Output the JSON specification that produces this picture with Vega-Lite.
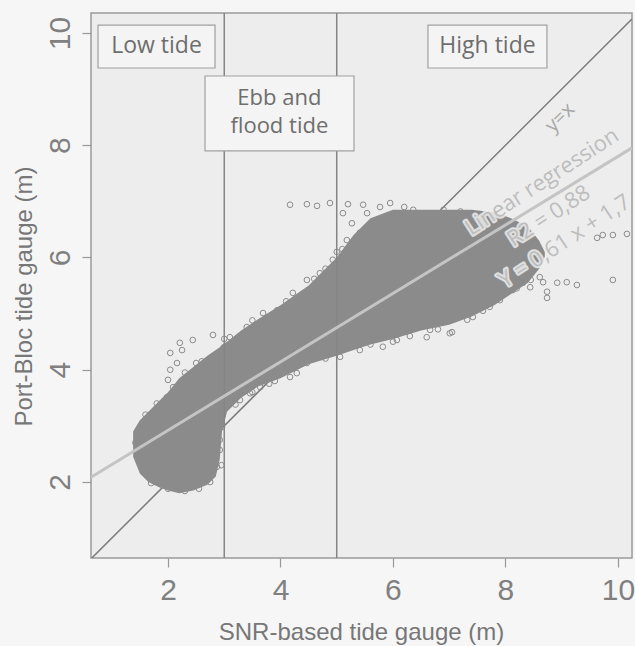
{
  "$schema": "https://vega.github.io/schema/vega-lite/v6.json",
  "width": 541,
  "height": 545,
  "autosize": {"type": "none"},
  "padding": {"left": 91, "top": 13, "right": 3, "bottom": 88},
  "background": "#f6f6f6",
  "config": {"view": {"fill": "#ededed", "stroke": "#9a9a9a", "strokeWidth": 1.5}},
  "datasets": {
    "band": [
      {"x": 1.38, "y": 2.45, "y2": 2.9},
      {"x": 1.5, "y": 2.15, "y2": 3.1},
      {"x": 1.65, "y": 2.0, "y2": 3.25},
      {"x": 1.85, "y": 1.9, "y2": 3.45},
      {"x": 2.0, "y": 1.85, "y2": 3.6},
      {"x": 2.2, "y": 1.8, "y2": 3.85},
      {"x": 2.45, "y": 1.85, "y2": 4.05},
      {"x": 2.7, "y": 1.95, "y2": 4.25},
      {"x": 2.85, "y": 2.1, "y2": 4.35},
      {"x": 2.92, "y": 2.4, "y2": 4.4},
      {"x": 2.96, "y": 2.9, "y2": 4.45},
      {"x": 3.05, "y": 3.25, "y2": 4.5},
      {"x": 3.3, "y": 3.5, "y2": 4.7},
      {"x": 3.6, "y": 3.7, "y2": 4.9},
      {"x": 4.0, "y": 3.85, "y2": 5.15},
      {"x": 4.5, "y": 4.1, "y2": 5.5},
      {"x": 5.0, "y": 4.25, "y2": 6.0},
      {"x": 5.3, "y": 4.35, "y2": 6.4},
      {"x": 5.6, "y": 4.45, "y2": 6.7},
      {"x": 6.0, "y": 4.55, "y2": 6.85},
      {"x": 6.5, "y": 4.7, "y2": 6.85},
      {"x": 7.0, "y": 4.8, "y2": 6.85},
      {"x": 7.4, "y": 4.95, "y2": 6.85},
      {"x": 7.8, "y": 5.15, "y2": 6.8},
      {"x": 8.1, "y": 5.35, "y2": 6.7},
      {"x": 8.4, "y": 5.55, "y2": 6.55},
      {"x": 8.6, "y": 5.8, "y2": 6.3},
      {"x": 8.7, "y": 6.0, "y2": 6.1}
    ],
    "pts": [
      {"x": 2.04, "y": 4.30}, {"x": 2.21, "y": 4.48}, {"x": 2.25, "y": 4.35}, {"x": 2.16, "y": 4.12},
      {"x": 2.04, "y": 4.0}, {"x": 2.0, "y": 3.82}, {"x": 2.09, "y": 3.69}, {"x": 2.44, "y": 4.53},
      {"x": 2.8, "y": 4.62}, {"x": 1.98, "y": 3.51}, {"x": 1.5, "y": 2.98}, {"x": 1.59, "y": 3.05},
      {"x": 1.47, "y": 2.8}, {"x": 1.45, "y": 2.57}, {"x": 1.5, "y": 2.34}, {"x": 1.56, "y": 2.21},
      {"x": 1.68, "y": 2.87}, {"x": 2.92, "y": 2.57}, {"x": 2.92, "y": 2.75}, {"x": 2.96, "y": 2.98},
      {"x": 2.87, "y": 2.27}, {"x": 3.28, "y": 3.46}, {"x": 3.46, "y": 3.58}, {"x": 3.64, "y": 3.69},
      {"x": 4.17, "y": 3.87}, {"x": 4.29, "y": 3.94}, {"x": 4.47, "y": 4.12}, {"x": 3.4, "y": 4.76},
      {"x": 3.69, "y": 5.01}, {"x": 3.94, "y": 5.06}, {"x": 3.1, "y": 4.58},
      {"x": 4.17, "y": 6.94}, {"x": 4.47, "y": 6.95}, {"x": 4.65, "y": 6.92}, {"x": 4.88, "y": 6.97},
      {"x": 5.2, "y": 6.95}, {"x": 5.47, "y": 6.94}, {"x": 5.77, "y": 6.9}, {"x": 5.11, "y": 6.79},
      {"x": 5.27, "y": 6.61}, {"x": 5.54, "y": 6.79}, {"x": 5.72, "y": 6.67}, {"x": 5.41, "y": 6.44},
      {"x": 5.59, "y": 6.31}, {"x": 5.18, "y": 6.31}, {"x": 4.93, "y": 5.96}, {"x": 4.7, "y": 5.72},
      {"x": 4.47, "y": 5.6}, {"x": 4.22, "y": 5.37}, {"x": 4.58, "y": 4.3}, {"x": 5.06, "y": 4.23},
      {"x": 5.41, "y": 4.35}, {"x": 5.82, "y": 4.41}, {"x": 6.07, "y": 4.53}, {"x": 6.6, "y": 4.58},
      {"x": 7.05, "y": 4.67}, {"x": 7.32, "y": 4.89}, {"x": 6.66, "y": 4.71}, {"x": 7.01, "y": 4.65},
      {"x": 7.42, "y": 4.94}, {"x": 7.72, "y": 5.12}, {"x": 7.9, "y": 5.24}, {"x": 6.36, "y": 6.85},
      {"x": 6.66, "y": 6.72}, {"x": 5.95, "y": 6.97}, {"x": 7.67, "y": 5.24}, {"x": 7.9, "y": 5.3},
      {"x": 8.13, "y": 5.42}, {"x": 8.44, "y": 5.47}, {"x": 8.67, "y": 5.56}, {"x": 8.74, "y": 5.39},
      {"x": 8.92, "y": 5.55}, {"x": 9.09, "y": 5.56}, {"x": 9.27, "y": 5.51}, {"x": 8.74, "y": 5.28},
      {"x": 9.91, "y": 5.6}, {"x": 9.73, "y": 6.4}, {"x": 9.91, "y": 6.4}, {"x": 10.16, "y": 6.42},
      {"x": 9.63, "y": 6.35}, {"x": 7.42, "y": 5.24}, {"x": 7.85, "y": 5.3}, {"x": 8.31, "y": 5.55},
      {"x": 8.61, "y": 5.65}, {"x": 4.4, "y": 5.35}, {"x": 4.8, "y": 5.8}, {"x": 5.0, "y": 6.1},
      {"x": 6.2, "y": 6.9}, {"x": 6.9, "y": 6.85}, {"x": 7.2, "y": 6.82}, {"x": 3.5, "y": 4.88},
      {"x": 2.6, "y": 4.15}, {"x": 2.3, "y": 3.95}, {"x": 1.8, "y": 3.4}, {"x": 1.6, "y": 3.2},
      {"x": 1.7, "y": 1.98}, {"x": 2.0, "y": 1.88}, {"x": 2.3, "y": 1.84}, {"x": 2.55, "y": 1.88},
      {"x": 2.75, "y": 2.0}, {"x": 3.5, "y": 3.6}, {"x": 3.9, "y": 3.8}, {"x": 4.8, "y": 4.2},
      {"x": 5.6, "y": 4.45}, {"x": 6.3, "y": 4.6}, {"x": 6.8, "y": 4.72}, {"x": 7.6, "y": 5.05},
      {"x": 8.2, "y": 5.45}, {"x": 8.45, "y": 5.6}, {"x": 3.2, "y": 3.38}, {"x": 3.8, "y": 3.75},
      {"x": 4.1, "y": 5.22}, {"x": 4.6, "y": 5.62}, {"x": 5.1, "y": 6.15}, {"x": 3.0, "y": 4.55},
      {"x": 2.5, "y": 4.12}, {"x": 1.42, "y": 2.7}, {"x": 2.95, "y": 2.3}, {"x": 6.0, "y": 4.5}
    ],
    "vlines": [{"x": 3, "y": 0.646, "y2": 10.356}, {"x": 5, "y": 0.646, "y2": 10.356}],
    "identity": [{"x": 0.646, "y": 0.646}, {"x": 10.25, "y": 10.25}],
    "regression": [{"x": 0.631, "y": 2.085}, {"x": 10.25, "y": 7.9525}],
    "boxes": [
      {"x": 0.756, "x2": 2.836, "y": 9.376, "y2": 10.14},
      {"x": 6.622, "x2": 8.738, "y": 9.376, "y2": 10.14},
      {"x": 2.658, "x2": 5.307, "y": 7.898, "y2": 9.234}
    ],
    "boxlabels": [
      {"x": 1.796, "y": 9.76, "label": "Low tide"},
      {"x": 7.68, "y": 9.76, "label": "High tide"}
    ],
    "ebblabels": [
      {"x": 3.98, "y": 8.85, "label": "Ebb and"},
      {"x": 3.98, "y": 8.34, "label": "flood tide"}
    ],
    "idlabel": [{"x": 8.97, "y": 8.49, "label": "y=x"}],
    "reglabels": [
      {"x": 8.65, "y": 7.35, "label": "Linear regression"},
      {"x": 8.77, "y": 6.74, "label": "R2 = 0,88"},
      {"x": 9.05, "y": 6.29, "label": "Y = 0,61 x + 1,7"}
    ]
  },
  "encoding": {
    "x": {
      "field": "x", "type": "quantitative",
      "scale": {"domain": [0.631, 10.25], "nice": false, "zero": false},
      "axis": {
        "values": [2, 4, 6, 8, 10], "grid": false, "domain": false,
        "tickSize": 9, "tickColor": "#999999", "tickWidth": 1.2,
        "labelFont": "Liberation Sans", "labelFontSize": 30, "labelColor": "#808080", "labelPadding": 8,
        "title": "SNR-based tide gauge (m)", "titleFont": "Liberation Sans", "titleFontSize": 24,
        "titleFontWeight": "normal", "titleColor": "#777777",
        "titleX": 270, "titleY": 74, "titleAlign": "center", "titleBaseline": "middle"
      }
    },
    "y": {
      "field": "y", "type": "quantitative",
      "scale": {"domain": [0.646, 10.356], "nice": false, "zero": false},
      "axis": {
        "values": [2, 4, 6, 8, 10], "grid": false, "domain": false,
        "tickSize": 9, "tickColor": "#999999", "tickWidth": 1.2,
        "labelFont": "Liberation Sans", "labelFontSize": 30, "labelColor": "#808080", "labelPadding": 13,
        "labelAngle": -90, "labelAlign": "center", "labelBaseline": "alphabetic",
        "title": "Port-Bloc tide gauge (m)", "titleFont": "Liberation Sans", "titleFontSize": 24,
        "titleFontWeight": "normal", "titleColor": "#777777", "titleAngle": -90,
        "titleX": -67, "titleY": 283, "titleAlign": "center", "titleBaseline": "middle"
      }
    }
  },
  "layer": [
    {"data": {"name": "identity"}, "mark": {"type": "line", "color": "#7a7a7a", "strokeWidth": 1.5, "clip": true}, "encoding": {}},
    {"data": {"name": "band"}, "mark": {"type": "area", "color": "#8b8b8b", "opacity": 1, "interpolate": "linear"}, "encoding": {"y2": {"field": "y2"}}},
    {"data": {"name": "pts"}, "mark": {"type": "point", "shape": "circle", "filled": false, "stroke": "#8b8b8b", "strokeWidth": 1, "size": 32, "opacity": 1}, "encoding": {}},
    {"data": {"name": "vlines"}, "mark": {"type": "rule", "color": "#858585", "strokeWidth": 1.5}, "encoding": {"y2": {"field": "y2"}}},
    {"data": {"name": "regression"}, "mark": {"type": "line", "color": "#c4c4c4", "strokeWidth": 3, "clip": true}, "encoding": {}},
    {"data": {"name": "boxes"}, "mark": {"type": "rect", "fill": "#f4f4f4", "stroke": "#a0a0a0", "strokeWidth": 1.2}, "encoding": {"x2": {"field": "x2"}, "y2": {"field": "y2"}}},
    {"data": {"name": "boxlabels"}, "mark": {"type": "text", "font": "Open Sans", "fontSize": 23, "color": "#6e6e6e", "align": "center", "baseline": "middle"}, "encoding": {"text": {"field": "label"}}},
    {"data": {"name": "ebblabels"}, "mark": {"type": "text", "font": "Open Sans", "fontSize": 22, "color": "#6e6e6e", "align": "center", "baseline": "middle"}, "encoding": {"text": {"field": "label"}}},
    {"data": {"name": "idlabel"}, "mark": {"type": "text", "font": "Open Sans", "fontSize": 20, "color": "#a8a8a8", "angle": -45, "align": "center", "baseline": "middle"}, "encoding": {"text": {"field": "label"}}},
    {"data": {"name": "reglabels"}, "mark": {"type": "text", "font": "Open Sans", "fontSize": 22, "fill": "#eeeeee", "stroke": "#eeeeee", "strokeWidth": 4, "strokeJoin": "round", "opacity": 0.85, "angle": -33, "align": "center", "baseline": "middle"}, "encoding": {"text": {"field": "label"}}},
    {"data": {"name": "reglabels"}, "mark": {"type": "text", "font": "Open Sans", "fontSize": 22, "color": "#bdbdbd", "angle": -33, "align": "center", "baseline": "middle"}, "encoding": {"text": {"field": "label"}}}
  ]
}
